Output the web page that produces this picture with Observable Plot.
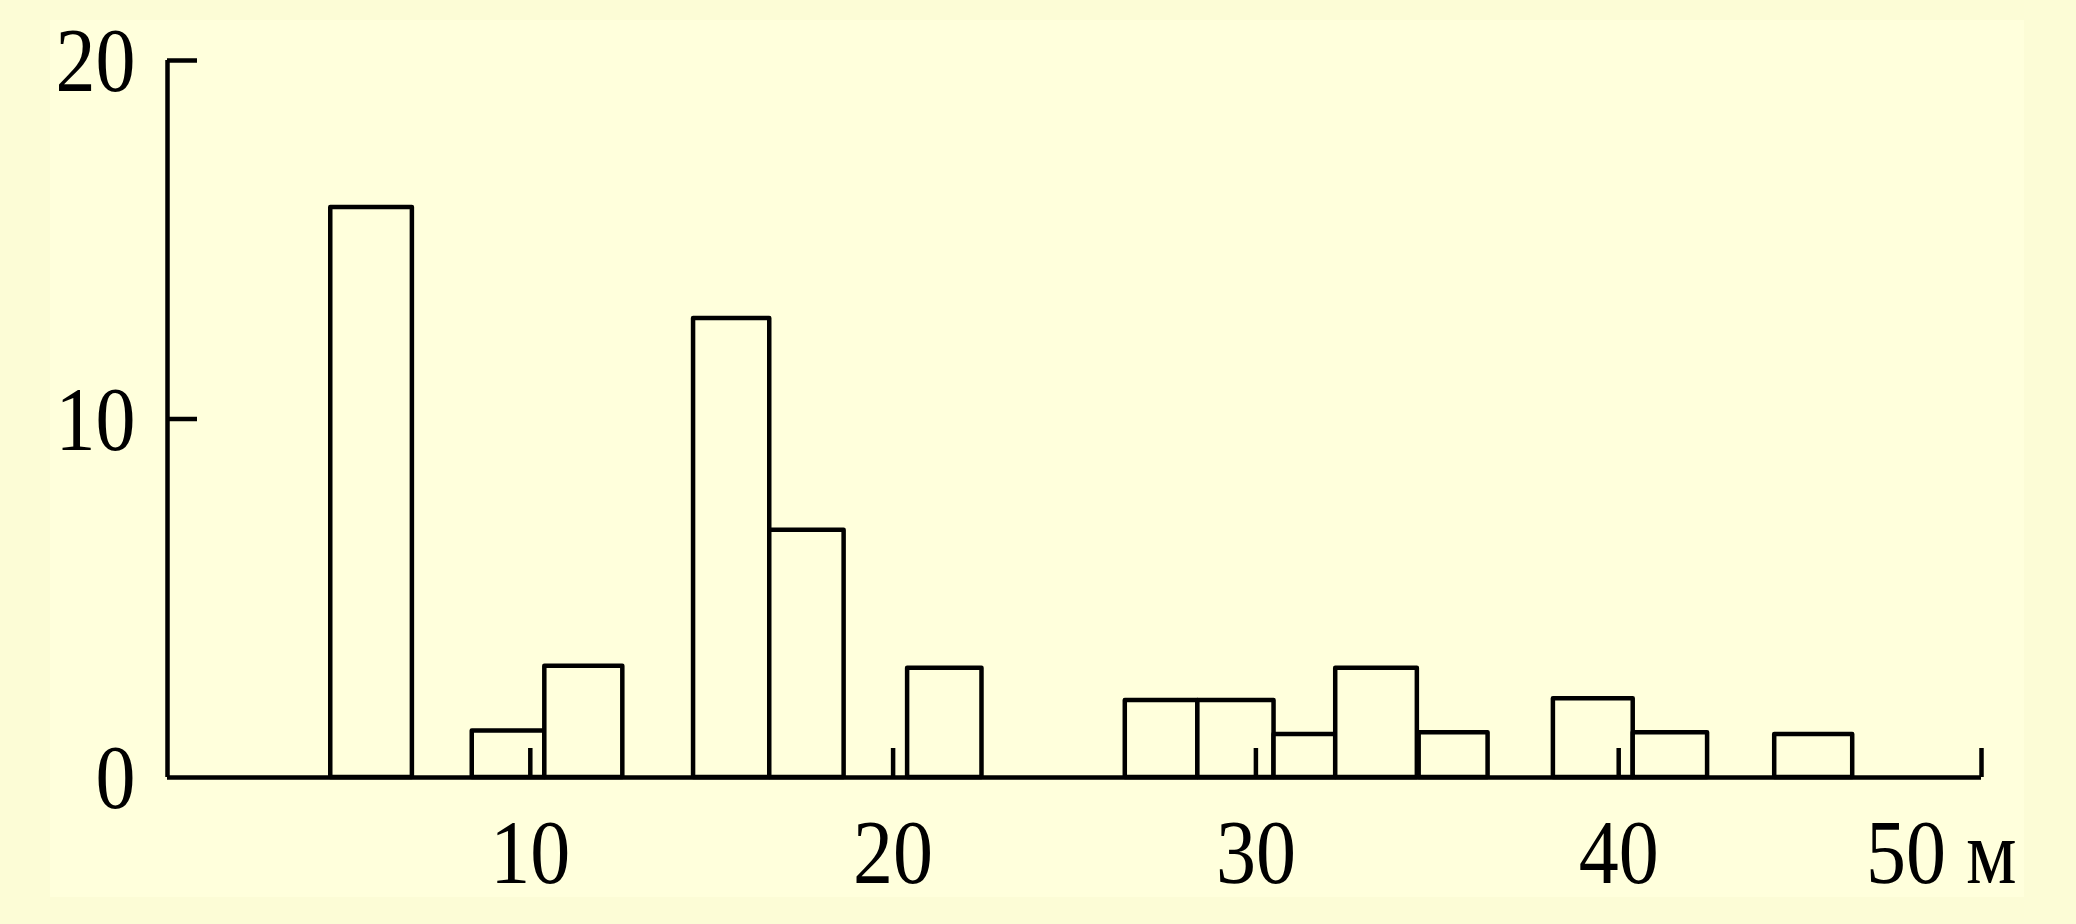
<!DOCTYPE html>
<html>
<head>
<meta charset="utf-8">
<script src="https://cdn.jsdelivr.net/npm/d3@7"></script>
<script src="https://cdn.jsdelivr.net/npm/@observablehq/plot@0.6"></script>
<style>
  html, body { margin: 0; padding: 0; background: #FCFCD6; }
  #wrap { position: relative; width: 2076px; height: 924px; }
  #panel { position: absolute; left: 50px; top: 20px; width: 1974px; height: 877px; background: #FFFFDC; }
  #chart { position: absolute; left: 0; top: 0; }
  svg { background: transparent !important; }
</style>
</head>
<body>
<div id="wrap"><div id="panel"></div><div id="chart"></div></div>
<script>
// Bin edges (м) and counts
const binStart = [4.5, 8.4, 10.4, 14.5, 16.6, 20.4, 26.4, 28.4, 30.5, 32.2, 34.5, 38.2, 40.4, 44.3];
const binEnd   = [6.75, 10.4, 12.55, 16.6, 18.65, 22.45, 28.4, 30.5, 32.2, 34.45, 36.4, 40.4, 42.45, 46.45];
const counts   = [15.9, 1.3, 3.1, 12.8, 6.9, 3.05, 2.15, 2.15, 1.2, 3.05, 1.25, 2.2, 1.25, 1.2];

const xTicks = [10, 20, 30, 40, 50];
const xTickLabels = ["10", "20", "30", "40", "50 м"];
const yTicks = [0, 10, 20];
const yTickLabels = ["0", "10", "20"];

const bars = binStart.map((s, i) => ({x1: s, x2: binEnd[i], y: counts[i]}));
const xLab = xTicks.map((t, i) => ({x: t, label: xTickLabels[i]}));
const yLab = yTicks.map((t, i) => ({y: t, label: yTickLabels[i]}));

const font = "Liberation Serif, Times New Roman, serif";
const sw = 4.5;

const chart = Plot.plot({
  width: 2076,
  height: 924,
  marginLeft: 167,
  marginRight: 95,
  marginTop: 60,
  marginBottom: 147,
  style: {background: "transparent", fontFamily: font},
  x: {domain: [0, 50], axis: null},
  y: {domain: [0, 20], axis: null},
  marks: [
    Plot.rectY(bars, {x1: "x1", x2: "x2", y1: 0, y2: "y", fill: "#FFFFDC", stroke: "black", strokeWidth: sw, strokeLinejoin: "round"}),
    Plot.ruleY([0], {x1: 0, x2: 50, stroke: "black", strokeWidth: sw}),
    Plot.ruleX([0], {y1: 0, y2: 20, stroke: "black", strokeWidth: sw}),
    Plot.ruleX(xTicks, {x: d => d, y1: 0, y2: 0, insetTop: -29, stroke: "black", strokeWidth: sw}),
    Plot.ruleY([10, 20], {y: d => d, x1: 0, x2: 0, insetRight: -30, stroke: "black", strokeWidth: sw}),
    Plot.text(xLab.filter(d => d.x !== 50), {x: "x", y: 0, text: "label", dy: 77, fontSize: 80, fill: "black", fontFamily: font}),
    Plot.text(xLab.filter(d => d.x === 50), {x: "x", y: 0, text: "label", dy: 77, dx: 35, textAnchor: "end", fontSize: 80, fill: "black", fontFamily: font}),
    Plot.text(yLab, {x: 0, y: "y", text: "label", dx: -32, dy: 2, textAnchor: "end", fontSize: 80, fill: "black", fontFamily: font})
  ]
});
// the reference typeface is taller/narrower than Liberation Serif: stretch glyphs vertically
chart.querySelectorAll("text").forEach(t => {
  const tr = t.getAttribute("transform") || "";
  t.setAttribute("transform", (tr + " scale(1,1.13)").trim());
});
document.getElementById("chart").appendChild(chart);
</script>
</body>
</html>
